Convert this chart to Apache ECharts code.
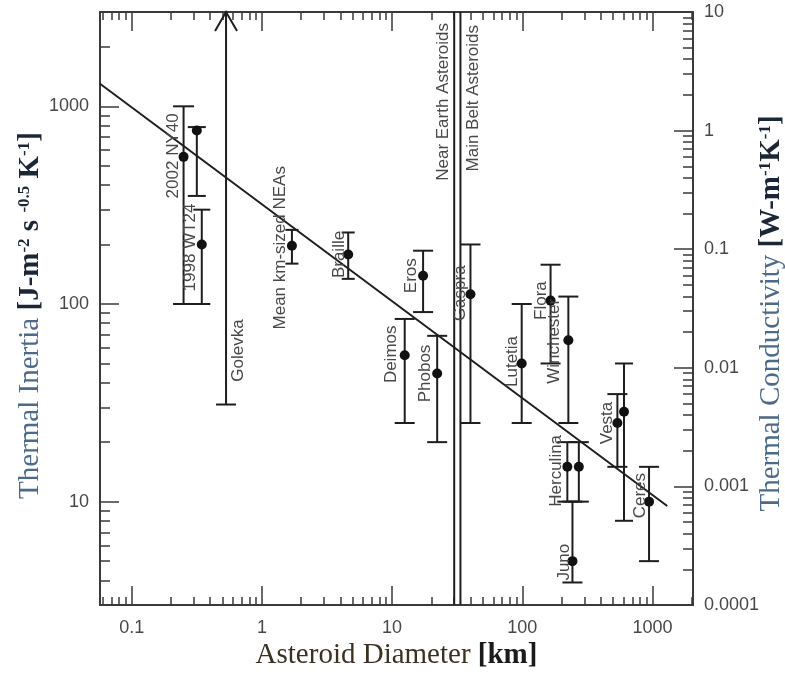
<!DOCTYPE html>
<html><head><meta charset="utf-8">
<script src="https://cdn.jsdelivr.net/npm/echarts@6/dist/echarts.min.js"></script>
<style>html,body{margin:0;padding:0;background:#fff}#chart{width:785px;height:673px}</style>
</head><body><div id="chart"></div>
<script>
// ---------------- data ----------------
const pointNames = ['2002 NY40','','1998 WT24','Mean km-sized NEAs','Braille','Eros','Deimos','Phobos','Gaspra','Lutetia','Flora','Winchester','Herculina','','Juno','Vesta','','Ceres'];
const diameters  = [0.25, 0.316, 0.345, 1.70, 4.6, 17.3, 12.5, 22.2, 40, 99, 165, 226, 222, 272, 243, 538, 605, 942];
const inertia    = [555, 755, 200, 197, 178, 139, 55, 44.5, 112, 50, 104, 65.5, 15, 15, 5, 25, 28.5, 10];
const errLow     = [100, 352, 100, 160, 134, 91, 25, 20, 25, 25, 50, 25, 10, 10, 3.9, 15, 8, 5];
const errHigh    = [1000, 785, 300, 237, 230, 186, 84, 69, 200, 100, 158, 109, 20, 20, 10, 35, 50, 15];
const golevkaName = 'Golevka';
const golevkaDiameter = 0.53;
const golevkaLowerLimit = 31;
const boundaryDiameters = [30, 33.5];
const boundaryNames = ['Near Earth Asteroids', 'Main Belt Asteroids'];
const fitDiameters = [0.057, 1300];
const fitInertia = [1300, 9.5];
const xTickValues = [0.1, 1, 10, 100, 1000];
const yTickValues = [10, 100, 1000];
const y2TickValues = [0.0001, 0.001, 0.01, 0.1, 1, 10];
const xRange = [0.057, 2050];
const yRange = [3, 3000];
const y2Range = [0.0001, 10];

// ---------------- styles (not data) ----------------
const capHalf = [10.5, 9, 8.5, 6.5, 6.5, 10, 10, 10, 10, 10, 10, 10, 10, 10, 10, 10, 9, 10];
const labelOffsets = {
  0: [-10, -1], 2: [-11, 3], 3: [-12, 2], 4: [-9, 0], 5: [-12, 0], 6: [-13, -1], 7: [-12, 0],
  8: [-10, -1], 9: [-9, -2], 10: [-9, 0], 11: [-14, 1], 12: [-11, 4], 14: [-8, 1], 15: [-10, 0], 17: [-9, -6]
};
const golevkaLabelOffset = [12, -54];
const boundaryLabelOffsets = [[-11, 11], [13, 13]];
const INK = '#1e1e1e';
const AXIS = '#3a3a3a';
const TXT = '#484848';
const SANS = "'Liberation Sans', Arial, sans-serif";
const SERIF = "'Liberation Serif', 'Times New Roman', serif";
const LABEL_FONT = '17px ' + SANS;
const TITLE_SIZE = 29;

const lg = Math.log10;
function minorTicks(lo, hi) {
  const out = [];
  for (let e = Math.floor(lg(lo)); e <= Math.ceil(lg(hi)); e++) {
    for (let m = 2; m <= 9; m++) {
      const v = m * Math.pow(10, e);
      if (v > lo && v < hi) out.push(lg(v));
    }
  }
  return out;
}
const fmt = v => String(Number(Math.pow(10, v).toPrecision(1)));

function axisBase(range, position) {
  return {
    type: 'value', position: position, min: lg(range[0]), max: lg(range[1]),
    splitLine: {show: false}, nameMoveOverlap: false
  };
}
function majorAxis(range, position, ticks, showLabel, len) {
  return Object.assign(axisBase(range, position), {
    axisLine: {show: true, onZero: false, lineStyle: {color: AXIS, width: 2}},
    axisTick: {show: true, inside: true, length: len, customValues: ticks.map(lg), lineStyle: {color: AXIS, width: 1.5}},
    axisLabel: showLabel ? {show: true, customValues: ticks.map(lg), formatter: fmt, fontSize: 18, color: TXT, fontFamily: SANS, margin: 11}
                         : {show: false}
  });
}
function minorAxis(range, position, len) {
  return Object.assign(axisBase(range, position), {
    axisLine: {show: false, onZero: false},
    axisTick: {show: true, inside: true, length: len, customValues: minorTicks(range[0], range[1]), lineStyle: {color: AXIS, width: 1.5}},
    axisLabel: {show: false}
  });
}
function titleRich(mainColor) {
  return {
    a: {fontFamily: SERIF, fontSize: TITLE_SIZE, color: mainColor},
    b: {fontFamily: SERIF, fontSize: TITLE_SIZE, fontWeight: 'bold', color: '#1c2736'},
    s: {fontFamily: SERIF, fontSize: 17, fontWeight: 'bold', color: '#1c2736', verticalAlign: 'top'}
  };
}

const xMain = majorAxis(xRange, 'bottom', xTickValues, true, 19);
xMain.axisLabel.margin = 14;
Object.assign(xMain, {
  name: '{a|Asteroid Diameter }{b|[km]}', nameLocation: 'middle', nameGap: 36,
  nameTextStyle: {rich: {
    a: {fontFamily: SERIF, fontSize: TITLE_SIZE, color: '#3b3122'},
    b: {fontFamily: SERIF, fontSize: TITLE_SIZE, fontWeight: 'bold', color: '#1b1b1b'}
  }}
});
const yMain = majorAxis(yRange, 'left', yTickValues, true, 19);
Object.assign(yMain, {
  name: '{a|Thermal Inertia }{b|[J-m}{s|-2}{b| s }{s|-0.5}{b| K}{s|-1}{b|]}',
  nameLocation: 'middle', nameRotate: 90, nameGap: 55,
  nameTextStyle: {rich: titleRich('#4d6a8a'), padding: [0, 14, 0, 0]}
});
const yRight = majorAxis(y2Range, 'right', y2TickValues, true, 19);
Object.assign(yRight, {
  name: '{a|Thermal Conductivity }{b|[W-m}{s|-1}{b|K}{s|-1}{b|]}',
  nameLocation: 'middle', nameRotate: 90, nameGap: 64,
  nameTextStyle: {rich: titleRich('#4d6a8a'), padding: [0, 10, 0, 0]}
});

const errData = diameters.map((d, i) => [lg(d), lg(errLow[i]), lg(errHigh[i])]);
const ptData = diameters.map((d, i) => [lg(d), lg(inertia[i])]);

const option = {
  animation: false,
  backgroundColor: '#fff',
  grid: {left: 100, right: 92, top: 12, bottom: 68, containLabel: false, outerBoundsMode: 'none'},
  xAxis: [xMain, minorAxis(xRange, 'bottom', 8), majorAxis(xRange, 'top', xTickValues, false, 19), minorAxis(xRange, 'top', 8)],
  yAxis: [yMain, minorAxis(yRange, 'left', 10), yRight, minorAxis(y2Range, 'right', 10)],
  series: [
    { // boundary lines between NEAs and main belt
      type: 'custom', xAxisIndex: 0, yAxisIndex: 0, silent: true, z: 1,
      data: boundaryDiameters.map(d => [lg(d), lg(yRange[0]), lg(yRange[1])]),
      renderItem: (params, api) => {
        const pLo = api.coord([api.value(0), api.value(1)]);
        const pHi = api.coord([api.value(0), api.value(2)]);
        const off = boundaryLabelOffsets[params.dataIndex];
        return {type: 'group', children: [
          {type: 'line', shape: {x1: pLo[0], y1: pLo[1], x2: pHi[0], y2: pHi[1]}, style: {stroke: INK, lineWidth: 2}},
          {type: 'text', x: pHi[0] + off[0], y: pHi[1] + off[1], rotation: Math.PI / 2,
           style: {text: boundaryNames[params.dataIndex], font: LABEL_FONT, fill: TXT, align: 'right', verticalAlign: 'middle'}}
        ]};
      }
    },
    { // power-law fit
      type: 'line', xAxisIndex: 0, yAxisIndex: 0, silent: true, z: 3, showSymbol: false,
      data: fitDiameters.map((d, i) => [lg(d), lg(fitInertia[i])]),
      lineStyle: {color: INK, width: 2}
    },
    { // error bars
      type: 'custom', xAxisIndex: 0, yAxisIndex: 0, silent: true, z: 2,
      data: errData, encode: {x: 0, y: [1, 2]},
      renderItem: (params, api) => {
        const x = api.value(0);
        const p1 = api.coord([x, api.value(1)]);
        const p2 = api.coord([x, api.value(2)]);
        const hw = capHalf[params.dataIndex];
        const st = {stroke: INK, lineWidth: 2};
        return {type: 'group', children: [
          {type: 'line', shape: {x1: p1[0], y1: p1[1], x2: p2[0], y2: p2[1]}, style: st},
          {type: 'line', shape: {x1: p1[0] - hw, y1: p1[1], x2: p1[0] + hw, y2: p1[1]}, style: st},
          {type: 'line', shape: {x1: p2[0] - hw, y1: p2[1], x2: p2[0] + hw, y2: p2[1]}, style: st}
        ]};
      }
    },
    { // Golevka lower limit with arrow
      type: 'custom', xAxisIndex: 0, yAxisIndex: 0, silent: true, z: 2,
      data: [[lg(golevkaDiameter), lg(golevkaLowerLimit), lg(yRange[1])]],
      renderItem: (params, api) => {
        const x = api.value(0);
        const p1 = api.coord([x, api.value(1)]);
        const p2 = api.coord([x, api.value(2)]);
        const st = {stroke: INK, lineWidth: 2};
        return {type: 'group', children: [
          {type: 'line', shape: {x1: p1[0], y1: p1[1], x2: p2[0], y2: p2[1]}, style: st},
          {type: 'line', shape: {x1: p1[0] - 10, y1: p1[1], x2: p1[0] + 10, y2: p1[1]}, style: st},
          {type: 'polyline', shape: {points: [[p2[0] - 11, p2[1] + 19], [p2[0], p2[1]], [p2[0] + 11, p2[1] + 19]]}, style: {stroke: INK, lineWidth: 2, fill: null}},
          {type: 'text', x: p1[0] + golevkaLabelOffset[0], y: p1[1] + golevkaLabelOffset[1], rotation: Math.PI / 2,
           style: {text: golevkaName, font: LABEL_FONT, fill: TXT, align: 'center', verticalAlign: 'middle'}}
        ]};
      }
    },
    { // data points
      type: 'scatter', xAxisIndex: 0, yAxisIndex: 0, silent: true, z: 4,
      data: ptData, symbol: 'circle', symbolSize: 10, itemStyle: {color: '#111', opacity: 1}
    },
    { // point labels
      type: 'custom', xAxisIndex: 0, yAxisIndex: 0, silent: true, z: 5,
      data: ptData,
      renderItem: (params, api) => {
        const name = pointNames[params.dataIndex];
        if (!name) return null;
        const p = api.coord([api.value(0), api.value(1)]);
        const off = labelOffsets[params.dataIndex] || [-10, 0];
        return {type: 'text', x: p[0] + off[0], y: p[1] + off[1], rotation: Math.PI / 2,
          style: {text: name, font: LABEL_FONT, fill: TXT, align: 'center', verticalAlign: 'middle'}};
      }
    }
  ]
};
echarts.init(document.getElementById('chart'), null, {renderer: 'canvas'}).setOption(option);
</script></body></html>
